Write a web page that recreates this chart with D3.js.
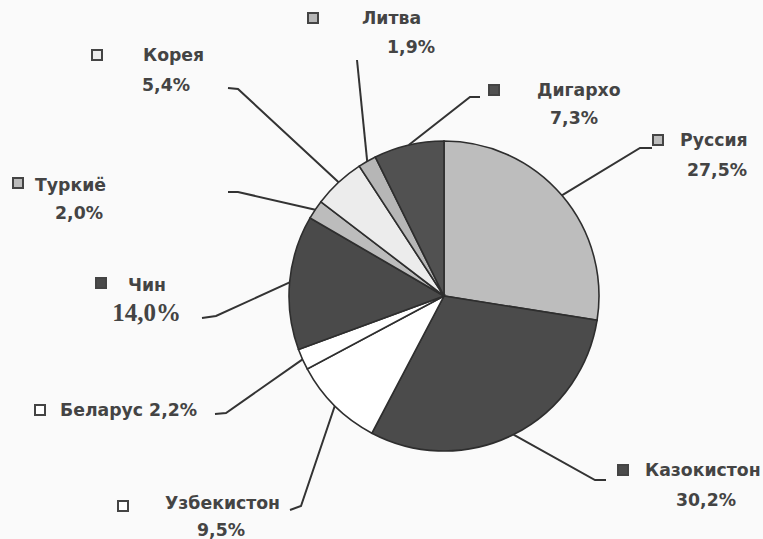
<!DOCTYPE html>
<html><head><meta charset="utf-8">
<script src="https://cdn.jsdelivr.net/npm/d3@7"></script>
<style>body{margin:0;background:#fafafa}svg{display:block}</style>
</head><body>
<script>
const categories = ["Руссия","Казокистон","Узбекистон","Беларус","Чин","Туркиё","Корея","Литва","Дигархо"];
const values = [27.5, 30.2, 9.5, 2.2, 14.0, 2.0, 5.4, 1.9, 7.3];
const valueLabels = ["27,5%","30,2%","9,5%","2,2%","14,0%","2,0%","5,4%","1,9%","7,3%"];
const colors = ["#bdbdbd","#4b4b4b","#ffffff","#ffffff","#4a4a4a","#bcbcbc","#ececec","#b6b6b6","#515151"];

// label layout: marker pos, name pos, value pos, leader elbow + end
const layout = [
  {mk:[658,140], nm:[680,146,"start"], vl:[747,176,"end"], elbow:[640,148], end:[652,148]},
  {mk:[623,470], nm:[645,476,"start"], vl:[736,506,"end"], elbow:[595,480], end:[606,480]},
  {mk:[123,506], nm:[165,509,"start"], vl:[245,536,"end"], elbow:[301,506], end:[290,510]},
  {mk:[40,410],  nm:[60,416,"start"], vl:null, elbow:[226,413], end:[215,414]},
  {mk:[101,283], nm:[128,291,"start"], vl:[181,321,"end"], elbow:[216,316], end:[202,318]},
  {mk:[18,183],  nm:[35,191,"start"], vl:[103,219,"end"], elbow:[238,192], end:[228,192]},
  {mk:[97,55],   nm:[143,61,"start"], vl:[190,91,"end"], elbow:[238,89], end:[228,88]},
  {mk:[313,18],  nm:[362,24,"start"], vl:[435,53,"end"], elbow:[357,60], end:[357,60]},
  {mk:[494,90],  nm:[537,96,"start"], vl:[598,124,"end"], elbow:[470,97], end:[480,97]}
];

const W = 763, H = 539, cx = 444, cy = 296, R = 155;
const svg = d3.select("body").append("svg").attr("width", W).attr("height", H);
const g = svg.append("g").attr("transform", `translate(${cx},${cy})`);

const pie = d3.pie().sort(null).value(d => d)(values);
const arc = d3.arc().innerRadius(0).outerRadius(R);

g.selectAll("path.slice").data(pie).join("path")
  .attr("class","slice")
  .attr("d", arc)
  .attr("fill", (d,i) => colors[i])
  .attr("stroke", "#2e2e2e").attr("stroke-width", 1.6);

// leader lines
const pts = pie.map((d,i) => {
  const a = (d.startAngle + d.endAngle)/2;
  return [cx + R*Math.sin(a), cy - R*Math.cos(a)];
});
svg.selectAll("path.leader").data(pie).join("path")
  .attr("class","leader")
  .attr("d", (d,i) => d3.line()([pts[i], layout[i].elbow, layout[i].end]))
  .attr("fill","none").attr("stroke","#333").attr("stroke-width",2);

// markers
svg.selectAll("rect.mk").data(pie).join("rect")
  .attr("class","mk")
  .attr("x",(d,i)=>layout[i].mk[0]-5).attr("y",(d,i)=>layout[i].mk[1]-5)
  .attr("width",10).attr("height",10)
  .attr("fill",(d,i)=>colors[i]).attr("stroke","#444").attr("stroke-width",2);

const font = "'DejaVu Sans', Verdana, sans-serif";
svg.selectAll("text.nm").data(pie).join("text")
  .attr("class","nm")
  .attr("x",(d,i)=>layout[i].nm[0]).attr("y",(d,i)=>layout[i].nm[1])
  .attr("text-anchor",(d,i)=>layout[i].nm[2])
  .attr("font-family",font).attr("font-weight","bold").attr("font-size",17.3)
  .attr("fill","#444")
  .text((d,i)=> layout[i].vl ? categories[i] : categories[i] + " " + valueLabels[i]);

svg.selectAll("text.vl").data(pie.filter((d,i)=>layout[i].vl)).join("text")
  .attr("class","vl")
  .each(function(d){
    const i = d.index, L = layout[i];
    const serif = categories[i] === "Чин";
    d3.select(this)
      .attr("x",L.vl[0]).attr("y",L.vl[1])
      .attr("text-anchor",L.vl[2])
      .attr("font-family", serif ? "'Liberation Serif', 'Times New Roman', serif" : font)
      .attr("font-weight","bold")
      .attr("font-size", serif ? 25 : 17.3)
      .attr("fill", "#444")
      .text(valueLabels[i]);
  });
</script>
</body></html>
